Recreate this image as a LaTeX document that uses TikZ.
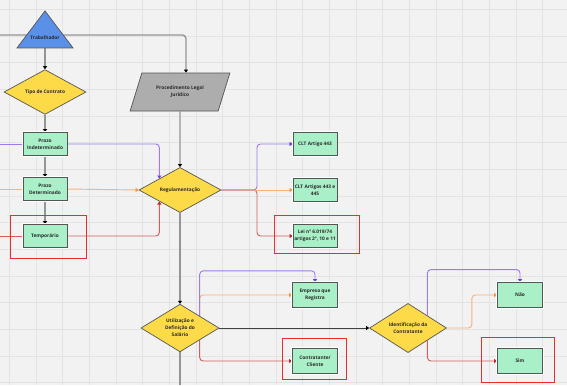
\documentclass[tikz,border=0pt]{standalone}
\usepackage{fontspec}
\setmainfont{Open Sans}
\usetikzlibrary{arrows.meta,calc,shapes.geometric,backgrounds}
\definecolor{BgClr}{HTML}{F2F2F2}
\definecolor{GridClr}{HTML}{E3E3E3}
\definecolor{LineClr}{HTML}{555555}
\definecolor{TxtClr}{HTML}{2A2A2A}
\definecolor{BoxClr}{HTML}{A9EFC8}
\definecolor{DecClr}{HTML}{FDDB48}
\definecolor{TriClr}{HTML}{5B90E8}
\definecolor{ProcClr}{HTML}{ADADAD}
\definecolor{EdgeClr}{HTML}{959595}
\definecolor{PurClr}{HTML}{9D7BEA}
\definecolor{PurTip}{HTML}{6A3BDB}
\definecolor{OrgClr}{HTML}{F9B27C}
\definecolor{OrgTip}{HTML}{F7963F}
\definecolor{RedClr}{HTML}{D0605C}
\definecolor{RedTip}{HTML}{C0262A}
\definecolor{HlClr}{HTML}{EE2B2B}

\begin{document}
\begin{tikzpicture}[x=0.03cm,y=-0.03cm,
  font=\fontsize{4.1}{6}\selectfont\bfseries, text=TxtClr,
  box/.style={draw=LineClr,fill=BoxClr,line width=0.6pt,preaction={draw=white,line width=2pt},
    minimum width=1.32cm,minimum height=0.69cm,inner sep=0pt,align=center},
  bigbox/.style={box,minimum width=1.35cm,minimum height=0.75cm},
  dec/.style={diamond,draw=LineClr,fill=DecClr,line width=0.6pt,inner sep=0pt,align=center},
  tri/.style={isosceles triangle,shape border rotate=90,isosceles triangle stretches,
    draw=LineClr,fill=TriClr,line width=0.6pt,inner sep=0pt},
  proc/.style={trapezium,trapezium left angle=58,trapezium right angle=122,trapezium stretches,
    draw=LineClr,fill=ProcClr,line width=0.6pt,inner sep=0pt,align=center},
  flow/.style={EdgeClr,line width=1.2pt,rounded corners=3pt},
  flowarr/.style={flow,-{Triangle[length=2.6pt,width=3.4pt,color=black]}},
  pur/.style={PurClr,line width=0.8pt,rounded corners=3pt,-{Triangle[length=2.6pt,width=3.4pt,color=PurTip]}},
  org/.style={OrgClr,line width=0.8pt,rounded corners=3pt,-{Triangle[length=2.6pt,width=3.4pt,color=OrgTip]}},
  red/.style={RedClr,line width=0.8pt,rounded corners=3pt,-{Triangle[length=2.6pt,width=3.4pt,color=RedTip]}},
  hl/.style={draw=HlClr,line width=0.8pt}]

\useasboundingbox (0,0) rectangle (567,385);

% nodes
\node[tri,minimum width=1.68cm,minimum height=1.11cm,anchor=apex] (trab) at (45,10) {};
\node (trabT) at (45,38) {Trabalhador};
\node[dec,minimum width=2.46cm,minimum height=1.02cm] (tipo) at (45,92) {Tipo de Contrato};
\node[box] (indet) at (45,144) {Prazo\\Indeterminado};
\node[box] (det) at (45,189) {Prazo\\Determinado};
\node[box] (temp) at (45,236) {Temporário};

\node[proc,minimum width=3cm,minimum height=1.14cm] (proc) at (180,92) {Procedimento Legal\\Jurídico};
\node[dec,minimum width=2.46cm,minimum height=1.08cm] (reg) at (180,190) {Regulamentação};

\node[box] (clt1) at (315,144) {CLT Artigo 443};
\node[box] (clt2) at (315,190) {CLT Artigos 443 e\\445};
\node[box] (lei) at (315,236) {Lei n\textordmasculine\ 6.019/74\\artigos 2\textordmasculine, 10 e 11};

\node[dec,minimum width=2.34cm,minimum height=1.23cm] (util) at (180,328) {Utilização e\\Definição do\\Salário};
\node[bigbox] (emp) at (315,295) {Empresa que\\Registra};
\node[bigbox] (contr) at (315,361) {Contratante/\\Cliente};

\node[dec,minimum width=2.31cm,minimum height=1.05cm] (ident) at (408,328) {Identificação da\\Contratante};
\node[bigbox] (nao) at (520,295) {Não};
\node[bigbox] (sim) at (520,361) {Sim};

\coordinate (inTrab) at (0,35);
\coordinate (inIndet) at (0,144);
\coordinate (inDet) at (0,189);
\coordinate (inTemp) at (0,236);
\coordinate (split) at (257,190);
\coordinate (outUtil) at (180,385);

\begin{scope}[on background layer]
\fill[BgClr] (0,0) rectangle (567,385);
\foreach \k in {0,...,21} {
  \draw[GridClr,line width=0.5pt] (9.3+26.67*\k,0) -- (9.3+26.67*\k,385);
  \draw[GridClr,line width=0.5pt] (0,9.3+26.67*\k) -- (567,9.3+26.67*\k);
}

\draw[flowarr] (inTrab) -| ($(proc.top left corner)!0.5!(proc.top right corner)$);
\draw[flowarr] (trab.lower side) -- (tipo);
\draw[flowarr] (tipo) -- (indet);
\draw[flowarr] (indet) -- (det);
\draw[flowarr] (det) -- (temp);
\draw[flowarr] (proc) -- (reg);
\draw[flowarr] (reg) -- (util);
\draw[flow] (util) -- (outUtil);
\draw[flowarr,draw=black!75,line width=0.8pt] (util) -- (ident);

\draw[pur,-] (inIndet) -- (indet);
\draw[org,-] (inDet) -- (det);
\draw[red,-] (inTemp) -- (temp);
\draw[red] (temp.east) -| (reg.south west);
\draw[org] (det.east) -- (reg.west);
\draw[pur] (indet.east) -| (reg.north west);

\draw[red] (reg.east) -- (split) |- (lei.west);
\draw[org] (reg.east) -- (clt2.west);
\draw[pur] (reg.east) -- (split) |- (clt1.west);

\draw[red] (util.south east) |- (contr.west);
\draw[org] (util.north east) |- (emp.west);
\draw[pur] (util.north east) -- ++(0,-45) -| (emp.north);

\draw[red] (ident.south east) |- (sim.west);
\draw[org] (ident.east) -- ++(25,0) |- (nao.west);
\draw[pur] (ident.north east) -- ++(0,-46) -| (nao.north);
\end{scope}

% highlights
\draw[hl] (10,215) rectangle (86,258);
\draw[hl] (274,215) rectangle (359,253);
\draw[hl] (282,338) rectangle (346,379);
\draw[hl] (481,337) rectangle (554,382);

\end{tikzpicture}
\end{document}
